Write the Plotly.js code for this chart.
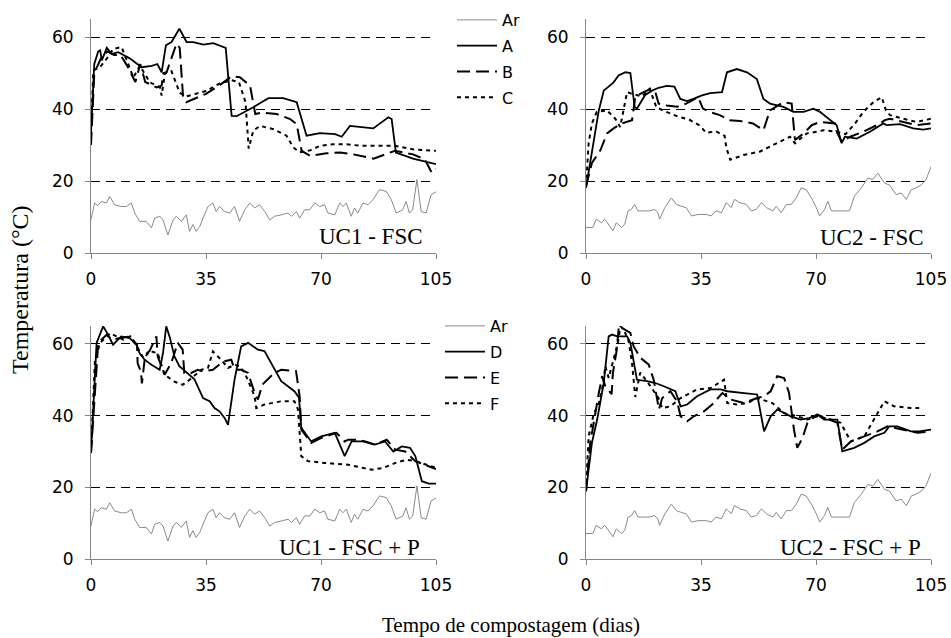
<!DOCTYPE html>
<html>
<head>
<meta charset="utf-8">
<script src="https://cdn.plot.ly/plotly-3.0.1.min.js"></script>
<style>html,body{margin:0;padding:0;background:#fff;}#chart{width:951px;height:638px;}</style>
</head>
<body>
<div id="chart"></div>
<script>
// ---------- Air temperature (Ar) ----------
const arUC1Days = [0,1.1,2,3.1,4.7,5.7,7.2,9.2,10.8,12.3,13.3,14.8,16.8,18.4,19.4,20.9,21.9,23.4,25,26,27.5,29,30,31,32,33.1,34.1,35.6,37.1,38.1,39.1,40.7,42.2,43.7,45.2,46.8,48.3,49.8,51.3,52.9,54.4,55.9,57.9,60,61,62.5,63.5,65,66.6,68.1,69.6,71.1,72.1,74.2,75.7,76.7,77.7,79.2,80.2,81.2,82.8,84.3,85.8,87.8,89.9,91.4,92.9,94.9,95.9,96.9,97.9,99.2,100.5,102,103.5,105];
const arUC1Temp = [9.3,13.9,13.2,14.3,13.9,15.7,13.4,12.9,12.9,13.9,11.1,8.8,8.8,7,9.7,10.2,9.2,5,9.2,10.2,8.8,10.6,6,7.9,6,7.4,9.7,12.9,13.9,11.5,12.9,11.5,11.1,12.9,8.8,12,13.9,12.5,13.4,11.5,9.2,10.2,10.6,11.1,10.2,11.5,9.7,12,12,13.9,12.9,13.4,11.1,10.6,13.9,12.9,13.9,10.2,12.5,11.1,13.9,13.4,14.8,17.6,17.1,14.8,11.1,12,14.3,11.1,12,20.4,11.5,11.1,16.2,17];

const arUC2Days = [0,2.1,3.1,4.7,5.7,7.2,8.2,9.2,10.8,11.8,12.8,13.8,14.8,15.8,17.9,19.4,20.9,21.9,22.4,24,26,27.5,29,30.5,32.1,34.1,36.6,38.1,39.6,41.2,42.7,44.2,45.2,46.8,48.8,50.3,51.8,53.4,54.9,56.9,57.9,59.4,61,62.5,64,65.5,67,68.6,70.1,71.1,72.6,73.6,74.7,77.2,80.2,81.7,83.8,85.8,87.3,88.8,90.9,92.4,94.4,95.9,97.5,99,100.5,102,103.5,105];
const arUC2Temp = [7.1,7.1,9.4,8.4,9.4,7.5,6.2,8.4,7.1,8.0,11.7,12.1,13.5,11.7,11.7,11.7,12.1,11.2,9.4,12.6,15.3,13.5,13.0,12.6,10.3,10.7,10.7,10.3,11.7,11.2,14.0,12.6,14.9,14.0,13.5,11.7,12.1,14.0,12.6,11.7,13.0,11.2,13.5,13.5,15.3,18.1,17.6,15.3,12.6,10.3,12.1,14.4,11.7,11.7,11.7,15.8,18.1,20.8,20.4,22.2,19.4,18.9,16.2,16.7,14.9,17.6,18.1,18.9,20.4,24];

// ---------- UC1 - FSC (A, B, C) ----------
const aDays = [0,1,2.2,2.8,3.3,4.8,6.3,8.3,11.9,15.4,18.5,20.2,21.5,22.8,24.5,26.9,29.1,31.1,34.2,37.2,41,42.8,44.3,49.4,54,58.5,62.6,65.6,69.7,74.3,76.3,78.8,85.9,90.5,91.5,92.8,98,105];
const aTemp = [33.5,52.5,56,56.3,53.5,57,55.3,55.8,54,51.6,52,52.5,50.2,57.7,58.6,62.3,58.6,58.6,57.9,58.3,57,38.1,38,40.5,43,43,41.9,32.6,33.3,33,32.3,35.3,34.6,37.7,37.2,27.9,26.2,24.7];

const bDays = [0,1,3,5,7,9,11,13.5,15,16.5,20,21.5,22,23,26,27,28,29,35,39,42.8,45.3,48.4,50,52,56.5,60.6,62.6,64.1,66.7,71.7,75.8,79.8,86,92.5,98,101.6,103.7,105];
const bTemp = [30,50,54,56,55,55,52,47.5,52.5,47.5,46,46.5,50,50.2,58.1,57,43.7,41.9,44.2,46.5,49.1,48.8,46.5,38.6,39,38.6,37.2,35.8,28.4,27,27.7,27.9,27.4,26.2,28.4,27.4,26,22.3,23.3];

const cDays = [0,0.7,2.7,4.8,6.8,9.3,12.9,14.9,17.9,21,21.5,22.5,24.5,26,27,29,35,39,42.8,45,47,48,49.4,51.5,55.5,59.5,61.6,63.5,66.7,69.7,73.8,77.8,81.9,88,92.5,98,105];
const cTemp = [33,50.7,51.6,54,56.7,57.2,48.8,52,47.4,46,43.7,50,50.5,47,44.5,43.5,45,47,48,47.5,42,29,34,35.3,34.4,32.6,29.3,28,28.5,29.8,30.2,30.2,29.8,29.8,29.8,28.8,28.4];

// ---------- UC2 - FSC (A, B, C) ----------
const a2Days = [0,2.3,3.9,5.4,8.4,9.9,12,13.5,14.8,15.5,18,20.1,22.1,24.6,26.9,28.7,30.7,32.7,35.3,37.8,41.4,42.9,45.9,49,52,54,56,60.1,63.1,66.2,69.2,71.2,74.3,76.3,77.8,78.8,82.4,86.4,90.5,91.5,95.6,99.6,102.7,105];
const a2Temp = [18.1,31.4,39.6,45.1,47.4,49.3,50.2,50,40.6,40.1,43.9,45.1,45.9,46.4,46.2,42.8,42.2,42.8,43.8,44.4,44.7,50.2,51.1,50.2,48.3,42.8,41.5,40.6,39.2,39.2,40.1,39.2,36.9,35.5,30.5,32.3,31.8,33.7,36,35.5,35.8,34.6,34.3,34.6];

const b2Days = [0,1.8,4.4,6.4,8.4,10.9,14,15,16.5,19.6,21.1,22.1,24.6,27.7,30.5,34.1,35.6,37.6,40.7,43.7,46.8,50.8,54,56,60.1,62.6,63.6,66.2,68.7,71.2,75.8,76.3,77.8,80.4,84.4,88.5,91,92.5,96.6,100.6,105];
const b2Temp = [18.5,25,28.6,33.2,34.6,36,36.9,43.3,44.2,45.6,44.7,41.5,41,40.6,41.5,43.3,40.1,39.2,38.3,36.9,36.7,36,34.1,39.6,41.9,41.5,31.4,33.2,35.5,36.4,36,33.7,30.9,32.3,33.7,35.5,36.9,37.3,36.4,35.5,36];

const c2Days = [0,0.8,1.8,3.3,6.4,8.9,10.4,11.5,12.5,14,17,19.4,21.4,24.4,28,31.5,34.6,36.6,39.6,42.2,42.7,43.9,47.9,53,58.1,62.1,63.6,67.2,70.2,72.3,76.3,79,81.9,84.4,87.5,90,91.3,92.5,96.6,100.6,105];
const c2Temp = [18.5,30.5,36,39.2,39.6,37.3,35,40.5,44.7,44.2,43.5,45.6,40.5,39.2,37.9,37,35.4,33.4,33.8,32.5,29.3,25.9,27.2,28.2,30.5,32.3,30.5,33.2,33.7,34.1,33.7,33,36,39.2,41.9,43.3,39.6,38.3,37.3,36.4,37.3];

// ---------- UC1 - FSC + P (D, E, F) ----------
const dDays = [0,1.1,1.7,3.7,5.2,6.7,9.2,11.8,13.8,14.8,16.3,18.4,20.9,21.9,22.9,23.9,25.4,26.9,29.4,31.5,34.1,36.1,37.6,39.1,40.7,41.7,43.7,45.7,47.8,50.8,52.8,55.3,57.9,61.9,63.3,64,67,70.1,74.2,77.2,79.3,83.4,86.4,89.5,92,94.6,97.1,98.7,100.7,102.8,105];
const dTemp = [29.6,51,60.3,64.9,62.6,59.8,62.1,61.6,59.8,57.4,55.6,54.2,52.8,57.4,64.9,62.1,56.5,53.8,51.9,50.1,44.9,44,42.1,41.2,39.3,37.4,50.1,59.3,60.3,58.4,58,53.8,49.6,46.8,45,36.6,32.8,34.2,35.2,28.7,32.8,32.8,31.9,32.8,30,31.4,31,28.7,21.7,21,21];

const eDays = [0,1.2,2.2,4.8,6.3,9.4,11.9,14,14.2,15.2,15.5,16.5,17.8,19.9,20.3,22.4,24.4,26.4,27.9,28.4,30.5,32.5,34.1,37.1,40.2,42.7,43.7,45.7,47.8,49.8,50.8,52.2,55.8,57.9,62.4,63.5,64,67,70.1,74.7,77.2,78.3,81.3,86.4,90,92.6,95.6,98.7,105];
const eTemp = [29.6,48.2,60.3,62.6,61.2,61.7,62.1,59.8,54.6,52.3,49,57,58,62.1,56.5,51.4,54.6,60.3,58.4,51.9,51.9,52.8,52.3,52.8,55.1,55.6,52.8,52.8,51.9,46.3,44.5,48.7,51.9,52.8,52.4,45.4,36.1,32.4,33.8,35.2,32.8,33.3,33.3,31.9,33.3,30.5,30,27.3,25.1];

const fDays = [0,1.2,2.8,5.8,9.9,11.9,14,16,18,20.3,22.4,25.4,27.9,30,33.6,35.6,37.1,39.6,41.7,43.7,45.2,46.8,49.8,50.3,52.8,57.9,61.9,63,64,66,71.1,78.3,85.4,89,92.6,96.1,98.7,105];
const fTemp = [29.6,55.6,60.3,63,61.2,62.1,59.3,56,58,57.4,51.4,49.5,48.6,50,52.8,53.3,57.9,55.6,53.3,54.2,53.8,51.9,45.4,42.1,43.1,44,44,41.7,28.7,27.3,26.8,26.3,24.9,25.4,26.8,27.7,27.3,25.4];

// ---------- UC2 - FSC + P (D, E, F) ----------
const d2Days = [0,1.8,3.4,5.4,6.9,7.9,9.5,12.5,13.5,15.5,18.6,21.1,23.7,27.2,28.8,30.8,33.8,37.9,41,43,48.1,52.1,54.2,56.2,58.2,62.3,65.3,67.9,70.4,72.5,76.5,78,81.6,84.7,87.7,90.8,92.3,94.8,98.9,101.4,105];
const d2Temp = [18.9,32.4,38.9,49.1,62.1,62.6,62.1,62.1,60.3,50,49.6,49.1,48.2,46.8,42.6,43.1,45.4,47.3,47.3,46.8,46.3,45.9,35.6,39.8,41.7,39.8,38.9,39.3,40.3,38.9,38.9,30,31,32.4,34.2,35.2,37,37,35.6,35.6,36.1];

const e2Days = [0,1.3,3.9,4.9,5.9,7.8,8.2,9.3,10,12.5,13.5,14.5,16.6,19.1,20.6,22.2,23.2,25.7,27.7,28.8,30.8,32.8,35.9,38.4,41.5,44,48.1,52.1,54.2,56.2,58.2,60.3,61.8,63.3,64.3,65.9,67.4,70.4,74.5,76.5,78,80.6,84.7,88.7,91.8,96.8,100.9,105];
const e2Temp = [18.9,32.4,46.3,51,48.2,46,52,58,65,63.5,63.1,59.3,56.1,54.2,50,41.7,44.9,46.8,44,39.8,38.4,39.8,41.2,43.1,46.3,44.5,43.5,44.9,45.4,46.8,51,50.5,46.3,36.1,31,33.8,38,40.3,38.9,38,30.5,32.8,34.2,35.6,37,36.1,35.2,35.6];

const f2Days = [0,0.8,2.3,3.9,4.9,5.9,6.9,8.4,9.7,10.5,11.5,13,14,15,16.5,19,22,23.2,25.7,28.8,33.8,37.9,42,43,46,49.1,52.1,56.7,60.3,64.3,67.4,70.4,74.5,77.5,80.6,84.7,88.7,90.8,93.8,98.9,101.4];
const f2Temp = [18.9,34.2,40.3,43.5,47.3,53.8,50.5,55.6,60.3,64.9,64,60.7,54.7,45.2,52,49,45,42.1,42.6,44.9,47.3,47.7,50,43.5,43.1,43.5,44.9,43.5,40.7,39.8,38.9,39.8,38.9,38,32.8,34.2,40.7,44,42.6,42.1,42.1];

// ---------- labels ----------
const xTicks = [0, 35, 70, 105];
const yTicks = [0, 20, 40, 60];
const panelLabels = ['UC1 - FSC', 'UC2 - FSC', 'UC1 - FSC + P', 'UC2 - FSC + P'];
const legendNames1 = ['Ar', 'A', 'B', 'C'];
const legendNames2 = ['Ar', 'D', 'E', 'F'];

// ---------- styles ----------
const arStyle = {color: '#8a8a8a', width: 1};
const solidStyle = {color: '#000', width: 1.8};
const dashStyle = {color: '#000', width: 2, dash: '13px,6px'};
const dotStyle = {color: '#000', width: 2, dash: '4px,4px'};

function tr(x, y, name, line, xa, ya, legend, show) {
  return {x: x, y: y, name: name, type: 'scatter', mode: 'lines', line: line,
          xaxis: xa, yaxis: ya, legend: legend, showlegend: show,
          legendgroup: legend + name, hoverinfo: 'skip'};
}

const traces = [
  tr(arUC1Days, arUC1Temp, legendNames1[0], arStyle, 'x', 'y', 'legend', true),
  tr(aDays, aTemp, legendNames1[1], solidStyle, 'x', 'y', 'legend', true),
  tr(bDays, bTemp, legendNames1[2], dashStyle, 'x', 'y', 'legend', true),
  tr(cDays, cTemp, legendNames1[3], dotStyle, 'x', 'y', 'legend', true),

  tr(arUC2Days, arUC2Temp, legendNames1[0], arStyle, 'x2', 'y2', 'legend', false),
  tr(a2Days, a2Temp, legendNames1[1], solidStyle, 'x2', 'y2', 'legend', false),
  tr(b2Days, b2Temp, legendNames1[2], dashStyle, 'x2', 'y2', 'legend', false),
  tr(c2Days, c2Temp, legendNames1[3], dotStyle, 'x2', 'y2', 'legend', false),

  tr(arUC1Days, arUC1Temp, legendNames2[0], arStyle, 'x3', 'y3', 'legend2', true),
  tr(dDays, dTemp, legendNames2[1], solidStyle, 'x3', 'y3', 'legend2', true),
  tr(eDays, eTemp, legendNames2[2], dashStyle, 'x3', 'y3', 'legend2', true),
  tr(fDays, fTemp, legendNames2[3], dotStyle, 'x3', 'y3', 'legend2', true),

  tr(arUC2Days, arUC2Temp, legendNames2[0], arStyle, 'x4', 'y4', 'legend2', false),
  tr(d2Days, d2Temp, legendNames2[1], solidStyle, 'x4', 'y4', 'legend2', false),
  tr(e2Days, e2Temp, legendNames2[2], dashStyle, 'x4', 'y4', 'legend2', false),
  tr(f2Days, f2Temp, legendNames2[3], dotStyle, 'x4', 'y4', 'legend2', false)
];

const W = 951, H = 638;
const sans = 'DejaVu Sans, Arial, sans-serif';
const tickFont = {family: sans, size: 17, color: '#000'};
function xax(px0, px1, anchor) {
  return {domain: [px0 / W, px1 / W], anchor: anchor, range: [0, 105], tickvals: xTicks,
          showline: true, linecolor: '#868686', linewidth: 1, ticks: 'outside', ticklen: 5,
          tickcolor: '#868686', showgrid: false, zeroline: false, tickfont: tickFont,
          ticklabelstandoff: 6, fixedrange: true};
}
function yax(py0, py1, anchor) {
  return {domain: [(H - py0) / H, (H - py1) / H], anchor: anchor, range: [0, 65], tickvals: yTicks,
          showline: true, linecolor: '#868686', linewidth: 1, ticks: 'outside', ticklen: 5,
          tickcolor: '#868686', showgrid: true, gridcolor: '#000', gridwidth: 1, griddash: '9px,6px',
          zeroline: false, tickfont: tickFont, ticklabelstandoff: 8, fixedrange: true};
}

const serif = 'Liberation Serif, Times New Roman, serif';
function panelLabel(text, xref, yref, x, y) {
  return {text: text, xref: xref, yref: yref, x: x, y: y, xanchor: 'right', yanchor: 'middle',
          showarrow: false, font: {family: serif, size: 23, color: '#000'}};
}

const legendFont = {family: sans, size: 16, color: '#000'};
const layout = {
  width: W, height: H,
  margin: {l: 0, r: 0, t: 0, b: 0},
  paper_bgcolor: '#fff', plot_bgcolor: '#fff',
  xaxis: xax(91, 436, 'y'),
  yaxis: yax(253, 19, 'x'),
  xaxis2: xax(586, 931, 'y2'),
  yaxis2: yax(253, 19, 'x2'),
  xaxis3: xax(91, 436, 'y3'),
  yaxis3: yax(559, 326, 'x3'),
  xaxis4: xax(586, 931, 'y4'),
  yaxis4: yax(559, 326, 'x4'),
  legend: {x: 452 / W, y: 1 - 3 / H, xanchor: 'left', yanchor: 'top', traceorder: 'grouped',
           tracegroupgap: 2, itemwidth: 40, bgcolor: 'rgba(0,0,0,0)', font: legendFont},
  legend2: {x: 440 / W, y: 1 - 309 / H, xanchor: 'left', yanchor: 'top', traceorder: 'grouped',
            tracegroupgap: 2, itemwidth: 40, bgcolor: 'rgba(0,0,0,0)', font: legendFont},
  annotations: [
    panelLabel(panelLabels[0], 'x', 'y', 101.6, 4.7),
    panelLabel(panelLabels[1], 'x2', 'y2', 103.5, 4.2),
    panelLabel(panelLabels[2], 'x3', 'y3', 100.7, 3.1),
    panelLabel(panelLabels[3], 'x4', 'y4', 102.6, 3.1),
    {text: 'Temperatura (°C)', xref: 'paper', yref: 'paper', x: 20 / W, y: 1 - 290 / H,
     xanchor: 'center', yanchor: 'middle', textangle: -90, showarrow: false,
     font: {family: serif, size: 24, color: '#000'}},
    {text: 'Tempo de compostagem (dias)', xref: 'paper', yref: 'paper', x: 511 / W, y: 1 - 625 / H,
     xanchor: 'center', yanchor: 'middle', showarrow: false,
     font: {family: serif, size: 21, color: '#000'}}
  ]
};

Plotly.newPlot('chart', traces, layout, {staticPlot: true, displayModeBar: false});
</script>
</body>
</html>
